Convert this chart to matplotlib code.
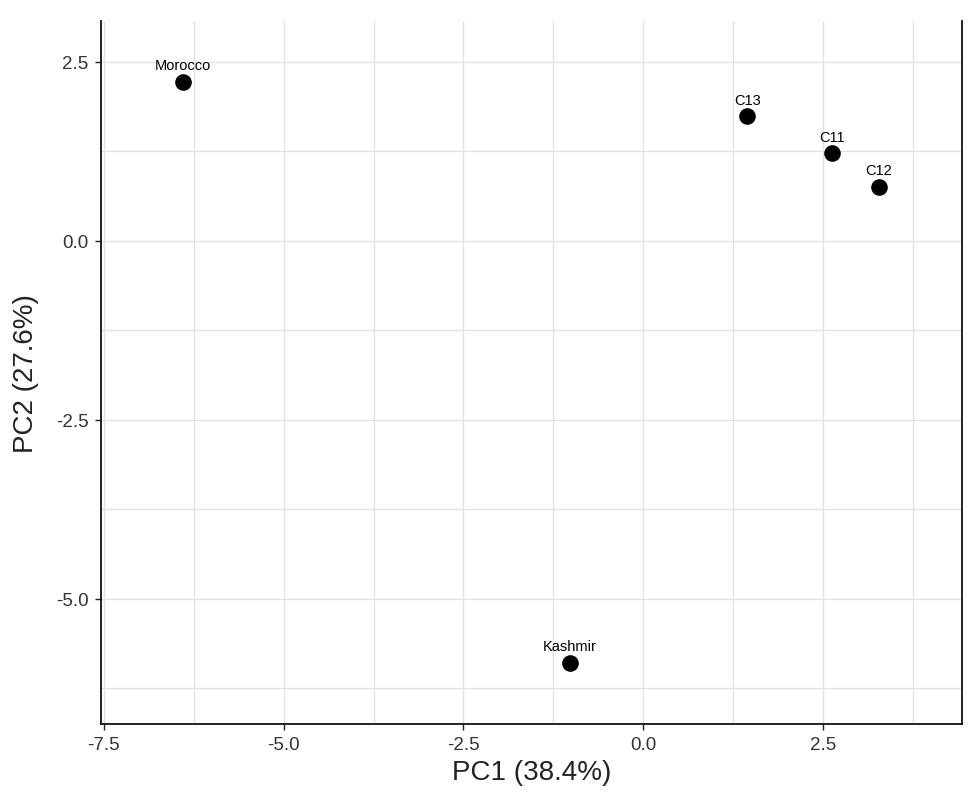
import matplotlib.pyplot as plt
import numpy as np

plt.rcParams['font.family'] = ['Liberation Sans', 'DejaVu Sans']

# coordenadas dos pontos (PCA)
nomes = ["Morocco", "C13", "C11", "C12", "Kashmir"]
pc1 = [-6.40, 1.45, 2.63, 3.28, -1.02]
pc2 = [2.22, 1.74, 1.22, 0.75, -5.90]

fig = plt.figure(figsize=(9.76, 8.04), dpi=100)
ax = fig.add_axes([0.1035, 0.0983, 0.8819, 0.8743])

ax.set_xlim(-7.54, 4.43)
ax.set_ylim(-6.75, 3.07)

ax.set_xticks(np.arange(-7.5, 2.6, 2.5))
ax.set_yticks(np.arange(-5.0, 2.6, 2.5))
ax.set_xticks(np.arange(-6.25, 4.3, 2.5), minor=True)
ax.set_yticks(np.arange(-6.25, 3.0, 2.5), minor=True)
ax.set_xticklabels(["-7.5", "-5.0", "-2.5", "0.0", "2.5"])
ax.set_yticklabels(["-5.0", "-2.5", "0.0", "2.5"])

ax.grid(True, which="both", color="#e3e3e3", linewidth=1.0)
ax.set_axisbelow(True)
ax.tick_params(which="minor", length=0)
ax.tick_params(which="major", length=4, width=1, color="#222222",
               labelsize=13.5, labelcolor="#333333", pad=5)

ax.spines["top"].set_visible(False)
for s in ["left", "bottom", "right"]:
    ax.spines[s].set_linewidth(1.3)
    ax.spines[s].set_color("#111111")

ax.scatter(pc1, pc2, s=120, color="black", zorder=3)
for n, x, y in zip(nomes, pc1, pc2):
    ax.annotate(n, (x, y), xytext=(0, 7), textcoords="offset points",
                ha="center", va="bottom", fontsize=10.5, color="black")

ax.set_xlabel("PC1 (38.4%)", fontsize=20, color="#222222", labelpad=4)
ax.set_ylabel("PC2 (27.6%)", fontsize=20, color="#222222", labelpad=12)

fig.savefig("out.png", dpi=100)
